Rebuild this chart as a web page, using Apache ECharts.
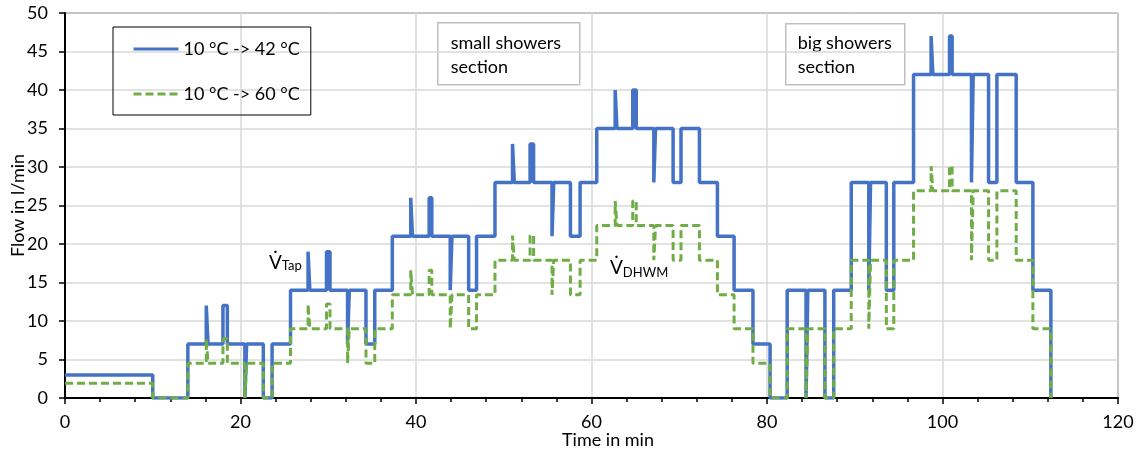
<!DOCTYPE html>
<html>
<head>
<meta charset="utf-8">
<script src="https://cdn.jsdelivr.net/npm/echarts@6/dist/echarts.min.js"></script>
<style>
  html, body { margin: 0; padding: 0; background: #fff; }
  #chart { width: 1137px; height: 450px; }
</style>
</head>
<body>
<div id="chart"></div>
<script>
// times where the flow changes (min)
var stepTimes = [
  0, 10, 14, 16.1, 16.3, 18.0, 18.5, 20.5, 20.7, 22.6, 23.6, 25.7,
  27.7, 27.9, 29.8, 30.2, 32.2, 32.4, 34.3, 35.3, 37.3,
  39.4, 39.6, 41.5, 41.8, 43.9, 44.1, 46.0, 46.9, 49.0,
  51.0, 51.2, 53.0, 53.4, 55.5, 55.7, 57.6, 58.7, 60.6,
  62.7, 62.9, 64.7, 65.1, 67.1, 67.3, 69.3, 70.2, 72.3,
  74.35, 76.25, 78.4, 80.35, 82.3, 84.45, 84.65, 86.6, 87.6, 89.6,
  91.6, 91.8, 93.6, 94.45, 96.7, 98.7, 98.9, 100.8, 101.1,
  103.3, 103.5, 105.25, 106.2, 108.4, 110.3, 112.35
];
// 10 °C -> 42 °C (tap flow)
var flow42 = [
  3, 0, 7, 12, 7, 12, 7, 0, 7, 0, 7, 14,
  19, 14, 19, 14, 7, 14, 7, 14, 21,
  26, 21, 26, 21, 14, 21, 14, 21, 28,
  33, 28, 33, 28, 21, 28, 21, 28, 35,
  40, 35, 40, 35, 28, 35, 28, 35, 28,
  21, 14, 7, 0, 14, 0, 14, 0, 14, 28,
  14, 28, 14, 28, 42, 47, 42, 47, 42,
  28, 42, 28, 42, 28, 14, 0
];
// 10 °C -> 60 °C (DHWM flow)
var flow60 = [
  1.9, 0, 4.5, 7.7, 4.5, 7.7, 4.5, 0, 4.5, 0, 4.5, 9,
  12.2, 9, 12.2, 9, 4.5, 9, 4.5, 9, 13.4,
  16.6, 13.4, 16.6, 13.4, 9, 13.4, 9, 13.4, 17.9,
  21.1, 17.9, 21.1, 17.9, 13.4, 17.9, 13.4, 17.9, 22.4,
  25.6, 22.4, 25.6, 22.4, 17.9, 22.4, 17.9, 22.4, 17.9,
  13.4, 9, 4.5, 0, 9, 0, 9, 0, 9, 17.9,
  9, 17.9, 9, 17.9, 26.9, 30.1, 26.9, 30.1, 26.9,
  17.9, 26.9, 17.9, 26.9, 17.9, 9, 0
];
var seriesNames = ['10 °C -> 42 °C', '10 °C -> 60 °C'];

function pairs(vals) {
  return stepTimes.map(function (t, i) { return [t, vals[i]]; });
}

var font = 'Lato, "Open Sans", sans-serif';
var txt = '#000';

var chart = echarts.init(document.getElementById('chart'));
var option = {
  animation: false,
  textStyle: { fontFamily: font },
  grid: {
    left: 65, right: 19, top: 13, bottom: 52,
    show: true, borderColor: '#222', borderWidth: 1,
    outerBoundsMode: 'none'
  },
  legend: {
    orient: 'vertical',
    left: 113, top: 27,
    padding: [13, 11, 12, 19],
    itemGap: 27,
    itemWidth: 45, itemHeight: 14,
    borderColor: '#000', borderWidth: 1,
    itemStyle: { opacity: 0 },
    lineStyle: { width: 3 },
    textStyle: { fontFamily: font, fontSize: 18, color: txt },
    data: seriesNames
  },
  xAxis: {
    type: 'value', min: 0, max: 120, interval: 20,
    name: 'Time in min', nameLocation: 'middle', nameGap: 33, nameMoveOverlap: false,
    nameTextStyle: { fontFamily: font, fontSize: 18, color: txt, padding: [0, 0, 0, 33] },
    axisLine: { show: true, lineStyle: { color: '#000', width: 2 } },
    axisTick: { show: true, length: 6, lineStyle: { color: '#000', width: 1.5 } },
    minorTick: { show: true, splitNumber: 5, length: 4, lineStyle: { color: '#000', width: 1.5 } },
    axisLabel: { fontFamily: font, fontSize: 18, color: txt, margin: 15 },
    splitLine: { show: true, lineStyle: { color: '#d9d9d9', width: 1.5 } }
  },
  yAxis: {
    type: 'value', min: 0, max: 50, interval: 5,
    name: 'Flow in l/min', nameLocation: 'middle', nameGap: 38, nameMoveOverlap: false,
    nameTextStyle: { fontFamily: font, fontSize: 18, color: txt },
    axisLine: { show: true, lineStyle: { color: '#000', width: 2 } },
    axisTick: { show: true, length: 6, lineStyle: { color: '#000', width: 1.5 } },
    axisLabel: { fontFamily: font, fontSize: 18, color: txt, margin: 17 },
    splitLine: { show: true, lineStyle: { color: '#d9d9d9', width: 1.5 } }
  },
  series: [
    {
      name: seriesNames[0], type: 'line', step: 'end',
      symbol: 'none', z: 2,
      lineStyle: { color: '#4472C4', width: 3.5, join: 'bevel' },
      itemStyle: { color: '#4472C4' },
      data: pairs(flow42)
    },
    {
      name: seriesNames[1], type: 'line', step: 'end',
      symbol: 'none', z: 3,
      lineStyle: { color: '#70AD47', width: 3, type: [8, 4], join: 'bevel' },
      itemStyle: { color: '#70AD47' },
      data: pairs(flow60)
    }
  ],
  graphic: [
    // section boxes
    {
      type: 'group', left: 437, top: 22,
      children: [
        { type: 'rect', shape: { x: 0, y: 0, width: 142, height: 62 },
          style: { fill: '#fff', stroke: '#bfbfbf', lineWidth: 1.5 } },
        { type: 'text', x: 13, y: 8,
          style: { text: 'small showers\nsection', font: '18px ' + font, fill: txt, lineHeight: 24 } }
      ]
    },
    {
      type: 'group', left: 785, top: 23,
      children: [
        { type: 'rect', shape: { x: 0, y: 0, width: 119, height: 61 },
          style: { fill: '#fff', stroke: '#bfbfbf', lineWidth: 1.5 } },
        { type: 'text', x: 12, y: 7,
          style: { text: 'big showers\nsection', font: '18px ' + font, fill: txt, lineHeight: 24 } }
      ]
    },
    // flow labels
    {
      type: 'text', left: 269, top: 253,
      style: {
        text: '{v|V\u0307}{s|Tap}',
        rich: {
          v: { fontFamily: font, fontSize: 19, fill: txt },
          s: { fontFamily: font, fontSize: 13, fill: txt, padding: [6, 0, 0, 0] }
        }
      }
    },
    {
      type: 'text', left: 610, top: 258,
      style: {
        text: '{v|V\u0307}{s|DHWM}',
        rich: {
          v: { fontFamily: font, fontSize: 19, fill: txt },
          s: { fontFamily: font, fontSize: 13, fill: txt, padding: [10, 0, 0, 0] }
        }
      }
    }
  ]
};
chart.setOption(option);
</script>
</body>
</html>
